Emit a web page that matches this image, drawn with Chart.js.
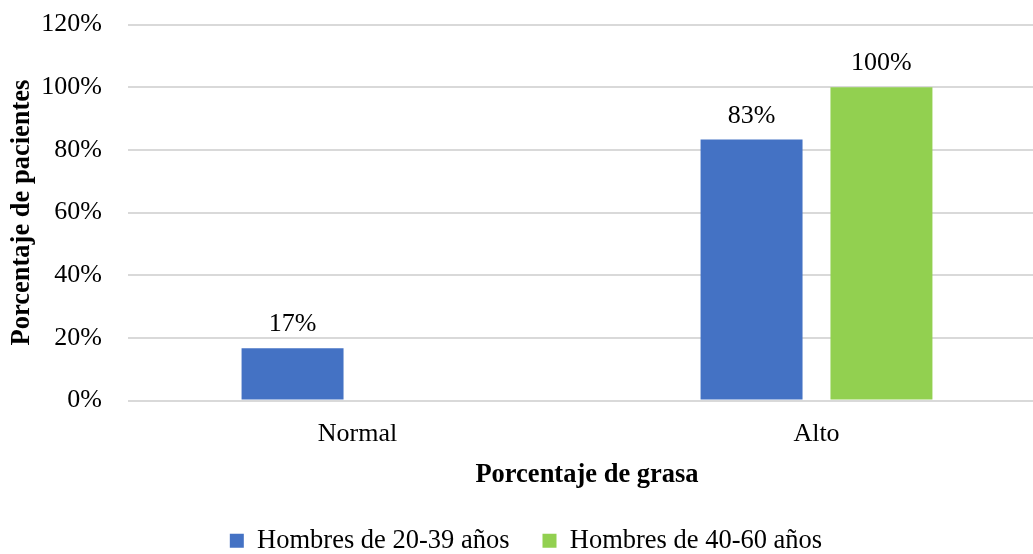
<!DOCTYPE html>
<html>
<head>
<meta charset="utf-8">
<script src="https://cdn.jsdelivr.net/npm/chart.js@4.4.1/dist/chart.umd.min.js"></script>
<style>
  html, body { margin: 0; padding: 0; background: #fff; overflow: hidden; }
  #wrap { width: 1033px; height: 554px; overflow: hidden; }
</style>
</head>
<body>
<div id="wrap"><canvas id="chart1" width="1050" height="554"></canvas></div>
<script>
var categories = ["Normal", "Alto"];
var seriesNames = ["Hombres de 20-39 años", "Hombres de 40-60 años"];
var young = [16.7, 83.3];
var older = [null, 100];
var yTicks = [0, 20, 40, 60, 80, 100, 120];

var serif = "'Liberation Serif', 'Times New Roman', serif";

// draws the percentage above each bar
var barLabels = {
  id: "barLabels",
  afterDatasetsDraw: function (chart) {
    var ctx = chart.ctx;
    ctx.save();
    ctx.font = "26px " + serif;
    ctx.fillStyle = "#000";
    ctx.textAlign = "center";
    ctx.textBaseline = "alphabetic";
    chart.data.datasets.forEach(function (ds, i) {
      chart.getDatasetMeta(i).data.forEach(function (bar, j) {
        var v = ds.data[j];
        if (v === null) return;
        ctx.fillText(Math.round(v) + "%", bar.x, bar.y - 17);
      });
    });
    ctx.restore();
  },
};

var chart = new Chart("chart1", {
  type: "bar",
  plugins: [barLabels],
  data: {
    labels: categories,
    datasets: [
      {
        label: seriesNames[0],
        data: young,
        backgroundColor: "#4472C4",
        categoryPercentage: 0.566,
        barPercentage: 0.785,
      },
      {
        label: seriesNames[1],
        data: older,
        backgroundColor: "#92D050",
        categoryPercentage: 0.566,
        barPercentage: 0.785,
      },
    ],
  },
  options: {
    responsive: false,
    animation: false,
    layout: { padding: { left: 6, right: 4, top: 0, bottom: -10 } },
    plugins: {
      tooltip: { enabled: false },
      legend: {
        position: "bottom",
        labels: {
          font: { family: serif, size: 26.5 },
          color: "#000",
          boxWidth: 14,
          boxHeight: 14,
          padding: 33,
        },
      },
    },
    scales: {
      x: {
        grid: { display: false },
        border: { display: false },
        ticks: { font: { family: serif, size: 26 }, color: "#000", padding: 10 },
        title: {
          display: true,
          text: "Porcentaje de grasa",
          font: { family: serif, size: 26.5, weight: "bold" },
          color: "#000",
          padding: { top: 0, bottom: 3 },
        },
      },
      y: {
        min: 0,
        max: 120,
        afterBuildTicks: function (axis) {
          axis.ticks = yTicks.map(function (v) { return { value: v }; });
        },
        afterFit: function (axis) {
          axis.width = 122;
        },
        grid: {
          color: "#D9D9D9",
          lineWidth: 2,
          drawTicks: true,
          tickLength: 17,
          tickColor: "rgba(0,0,0,0)",
        },
        border: { display: false },
        ticks: {
          font: { family: serif, size: 26 },
          color: "#000",
          padding: 9,
          callback: function (v) { return v + "%"; },
        },
        title: {
          display: true,
          text: "Porcentaje de pacientes",
          font: { family: serif, size: 26.5, weight: "bold" },
          color: "#000",
          padding: { top: 0, bottom: 0 },
        },
      },
    },
  },
});
</script>
</body>
</html>
